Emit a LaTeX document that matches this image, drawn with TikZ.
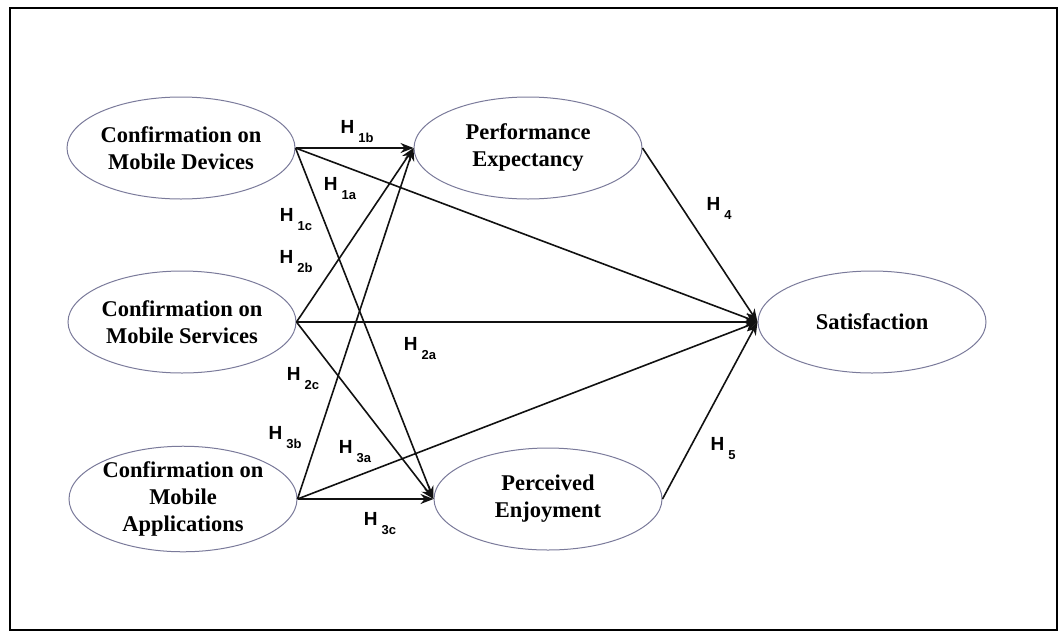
\documentclass[tikz,border=0pt]{standalone}
\usepackage{fontspec}
\setmainfont{Liberation Serif}
\newfontfamily\lblfont{Liberation Sans}
\usepackage{xcolor}
\usetikzlibrary{arrows.meta,shapes.geometric}
\definecolor{rim}{HTML}{7A7A9A}
\definecolor{ink}{HTML}{111111}
\newcommand{\hyp}[1]{H\hspace{2pt}\raisebox{-4.5pt}{\fontsize{6.5}{7}\selectfont #1}}
\tikzset{
  construct/.style={ellipse,draw=rim,line width=0.5pt,align=center,inner sep=0pt,
    minimum width=114pt,minimum height=51pt,font=\fontsize{11.25}{13.5}\selectfont\bfseries},
  arr/.style={-{Stealth[length=6.5pt,width=5pt]},line width=0.8pt,draw=ink},
  hyp/.style={font=\lblfont\bfseries\fontsize{9.5}{11}\selectfont,inner sep=0pt}
}

\begin{document}
\begin{tikzpicture}[x=0.5pt,y=-0.5pt]
  \useasboundingbox (0,0) rectangle (1058,632);
  \draw[line width=1.2pt] (10,8) rectangle (1057,630);
  % constructs
  \node[construct] (cmd) at (181,148) {Confirmation on\\Mobile Devices};
  \node[construct] (cms) at (182,322) {Confirmation on\\Mobile Services};
  \node[construct] (cma) at (183,499) {Confirmation on\\Mobile\\Applications};
  \node[construct] (pe) at (528,148) {Performance\\Expectancy};
  \node[construct] (enj) at (548,499) {Perceived\\Enjoyment};
  \node[construct] (sat) at (872,322) {Satisfaction};
  % paths
  \foreach \src in {cmd,cms,cma} {
    \draw[arr] (\src.east) -- (pe.west);
    \draw[arr] (\src.east) -- (sat.west);
    \draw[arr] (\src.east) -- (enj.west);
  }
  \draw[arr] (pe.east) -- (sat.west);
  \draw[arr] (enj.east) -- (sat.west);
  % hypotheses
  \foreach \lab/\x/\y in {1b/357/132,1a/340/189,1c/296/220,2b/296/262,2a/420/349,
      2c/303/379,3b/285/438,3a/355/452,3c/380/524,4/719/208,5/723/449} {
    \node[hyp] (h\lab) at (\x,\y) {\hyp{\lab}};
  }
\end{tikzpicture}
\end{document}
